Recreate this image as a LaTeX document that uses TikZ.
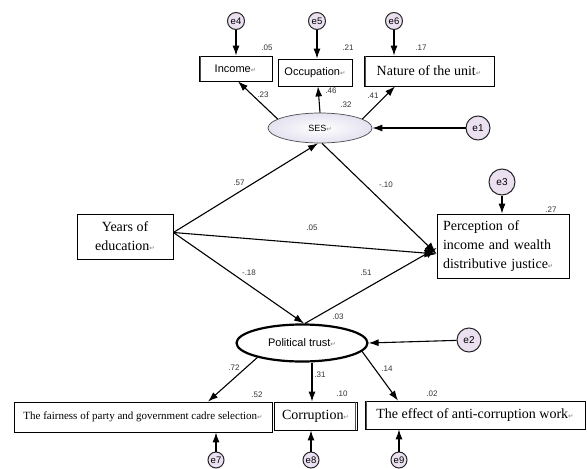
\documentclass[tikz,border=0pt]{standalone}
\usepackage{fontspec}
\setmainfont{Liberation Serif}
\setsansfont{Liberation Sans}
\newfontfamily\symfont{DejaVu Sans}
\usetikzlibrary{arrows.meta,shapes.geometric,calc}
\definecolor{errfill}{HTML}{EAE0F0}
\definecolor{sesedge}{HTML}{E4E2F0}
\newcommand\retmark{{\symfont\fontsize{6.5}{6.5}\selectfont\color{gray}\char"21B5}}
\begin{document}
\begin{tikzpicture}[x=1pt,y=-1pt,
  box/.style={draw=black, line width=0.8pt, fill=white, inner sep=0pt, align=center},
  sbox/.style={box, font=\sffamily\fontsize{11}{13}\selectfont},
  tbox/.style={box, font=\fontsize{14}{19}\selectfont},
  errc/.style={circle, draw=black!85, line width=1pt, fill=errfill, inner sep=0pt, font=\sffamily\fontsize{9.5}{9.5}\selectfont},
  num/.style={font=\sffamily\fontsize{8}{8}\selectfont, text=black!80, inner sep=0pt},
  arr/.style={-{Latex[length=10pt,width=7pt]}, line width=1.1pt},
  barr/.style={-{Latex[length=12pt,width=9pt]}, line width=1.1pt},
  dbl/.style={line width=0.6pt, draw=black!70}
]
\useasboundingbox (0,0) rectangle (587,469);

% observed variables (top)
\node[sbox, minimum width=73pt, minimum height=25pt] (income) at (235.5,68.5) {Income\retmark};
\node[sbox, minimum width=74pt, minimum height=27pt] (occ) at (315,72.5) {Occupation\retmark};
\node[tbox, minimum width=130pt, minimum height=30pt] (nature) at (429,71) {Nature of the unit\retmark};

% error circles (top)
\node[errc, minimum size=17pt] (e4) at (236,21) {e4};
\node[errc, minimum size=17pt] (e5) at (317,21) {e5};
\node[errc, minimum size=17pt] (e6) at (394,21) {e6};

% SES
\node[ellipse, draw=black!70, line width=0.7pt, inner color=white, outer color=sesedge,
      minimum width=104pt, minimum height=30pt, inner sep=0pt,
      font=\sffamily\fontsize{9}{9}\selectfont] (ses) at (320,128) {SES\retmark};
\node[errc, minimum size=24pt, font=\sffamily\fontsize{10}{10}\selectfont] (e1) at (478,128) {e1};

% years and perception
\node[tbox, minimum width=96pt, minimum height=45pt] (years) at (125,236.5) {Years of\\education\retmark};
\node[tbox, align=left, text width=120pt, inner xsep=6pt, minimum height=64pt] (perc) at (503,246)
  {Perception of\\income and wealth\\distributive justice\retmark};
\node[errc, minimum size=26pt, font=\sffamily\fontsize{10}{10}\selectfont] (e3) at (502,182) {e3};

% political trust
\node[ellipse, draw=black, line width=2.2pt, fill=white, minimum width=131pt, minimum height=37pt,
      inner sep=0pt, font=\sffamily\fontsize{11}{11}\selectfont] (pt) at (302,343) {Political trust\retmark};
\node[errc, minimum size=24pt, font=\sffamily\fontsize{10}{10}\selectfont] (e2) at (469,340) {e2};

% bottom observed variables
\node[box, font=\fontsize{11}{13}\selectfont, minimum width=258pt, minimum height=30pt] (fair) at (143,417)
  {The fairness of party and government cadre selection\retmark};
\node[tbox, minimum width=83pt, minimum height=28pt] (corr) at (315.5,416) {Corruption\retmark};
\node[tbox, minimum width=220pt, minimum height=28pt] (eff) at (475,415) {The effect of anti-corruption work\retmark};

\node[errc, minimum size=16pt] (e7) at (216,460) {e7};
\node[errc, minimum size=16pt] (e8) at (311,460) {e8};
\node[errc, minimum size=16pt] (e9) at (399,460) {e9};

% double edges
\draw[dbl] ([xshift=2pt]income.north west) -- ([xshift=2pt]income.south west);
\draw[dbl] ([xshift=2pt]nature.north west) -- ([xshift=2pt]nature.south west);
\draw[dbl] ([xshift=-2pt]corr.north east) -- ([xshift=-2pt]corr.south east);
\draw[dbl] ([xshift=2pt]eff.north west) -- ([xshift=2pt]eff.south west);

% error arrows
\draw[arr] (e4) -- (e4 |- income.north);
\draw[arr] (e5) -- (e5 |- occ.north);
\draw[arr] (e6) -- (e6 |- nature.north);
\draw[arr] (e1) -- (ses.east);
\draw[arr] (e3) -- (e3 |- perc.north);
\draw[arr] (e2) -- (pt.east);
\draw[arr] (e7) -- (e7 |- fair.south);
\draw[arr] (e8) -- (e8 |- corr.south);
\draw[arr] (e9) -- (e9 |- eff.south);

% SES loadings
\draw[arr] (ses.168) -- ([xshift=2.5pt]income.south);
\draw[arr] (ses.north) -- ([xshift=3pt]occ.south);
\draw[arr] (ses.12) -- ([xshift=-34pt]nature.south);

% structural paths
\coordinate (yo) at ([yshift=4pt]years.east);
\draw[arr] (yo) -- ([xshift=-2pt]ses.south);
\draw[barr] ([xshift=2pt]ses.south) -- ([yshift=-8pt]perc.west);
\draw[barr] (yo) -- ([yshift=-8pt]perc.west);
\draw[arr] (yo) -- ([xshift=2pt]pt.north);
\draw[barr] ([xshift=3pt]pt.north) -- ([yshift=-2pt]perc.west);

% political trust loadings
\draw[arr] (pt.198) -- ([xshift=65pt]fair.north);
\draw[arr] ([xshift=10pt]pt.south) -- ([xshift=10pt]pt.south |- corr.north);
\draw[arr] (pt.-8) -- ([xshift=-77pt]eff.north);

% coefficients
\node[num] (n05) at (267,48) {.05};
\node[num] (n21) at (348,48) {.21};
\node[num] (n17) at (421,48) {.17};
\node[num] (n23) at (263,95) {.23};
\node[num] (n46) at (331,91) {.46};
\node[num] (n32) at (346,105) {.32};
\node[num] (n41) at (373,96) {.41};
\node[num] (n57) at (239,183) {.57};
\node[num] (nm10) at (386,185) {-.10};
\node[num] (n05b) at (312,228) {.05};
\node[num] (n27) at (551,210) {.27};
\node[num] (nm18) at (249,273) {-.18};
\node[num] (n51) at (366,273) {.51};
\node[num] (n03) at (338,317) {.03};
\node[num] (n72) at (234,368) {.72};
\node[num] (n31) at (320,375) {.31};
\node[num] (n14) at (387,369) {.14};
\node[num] (n52) at (257,395) {.52};
\node[num] (n10) at (342,394) {.10};
\node[num] (n02) at (432,394) {.02};
\end{tikzpicture}
\end{document}
